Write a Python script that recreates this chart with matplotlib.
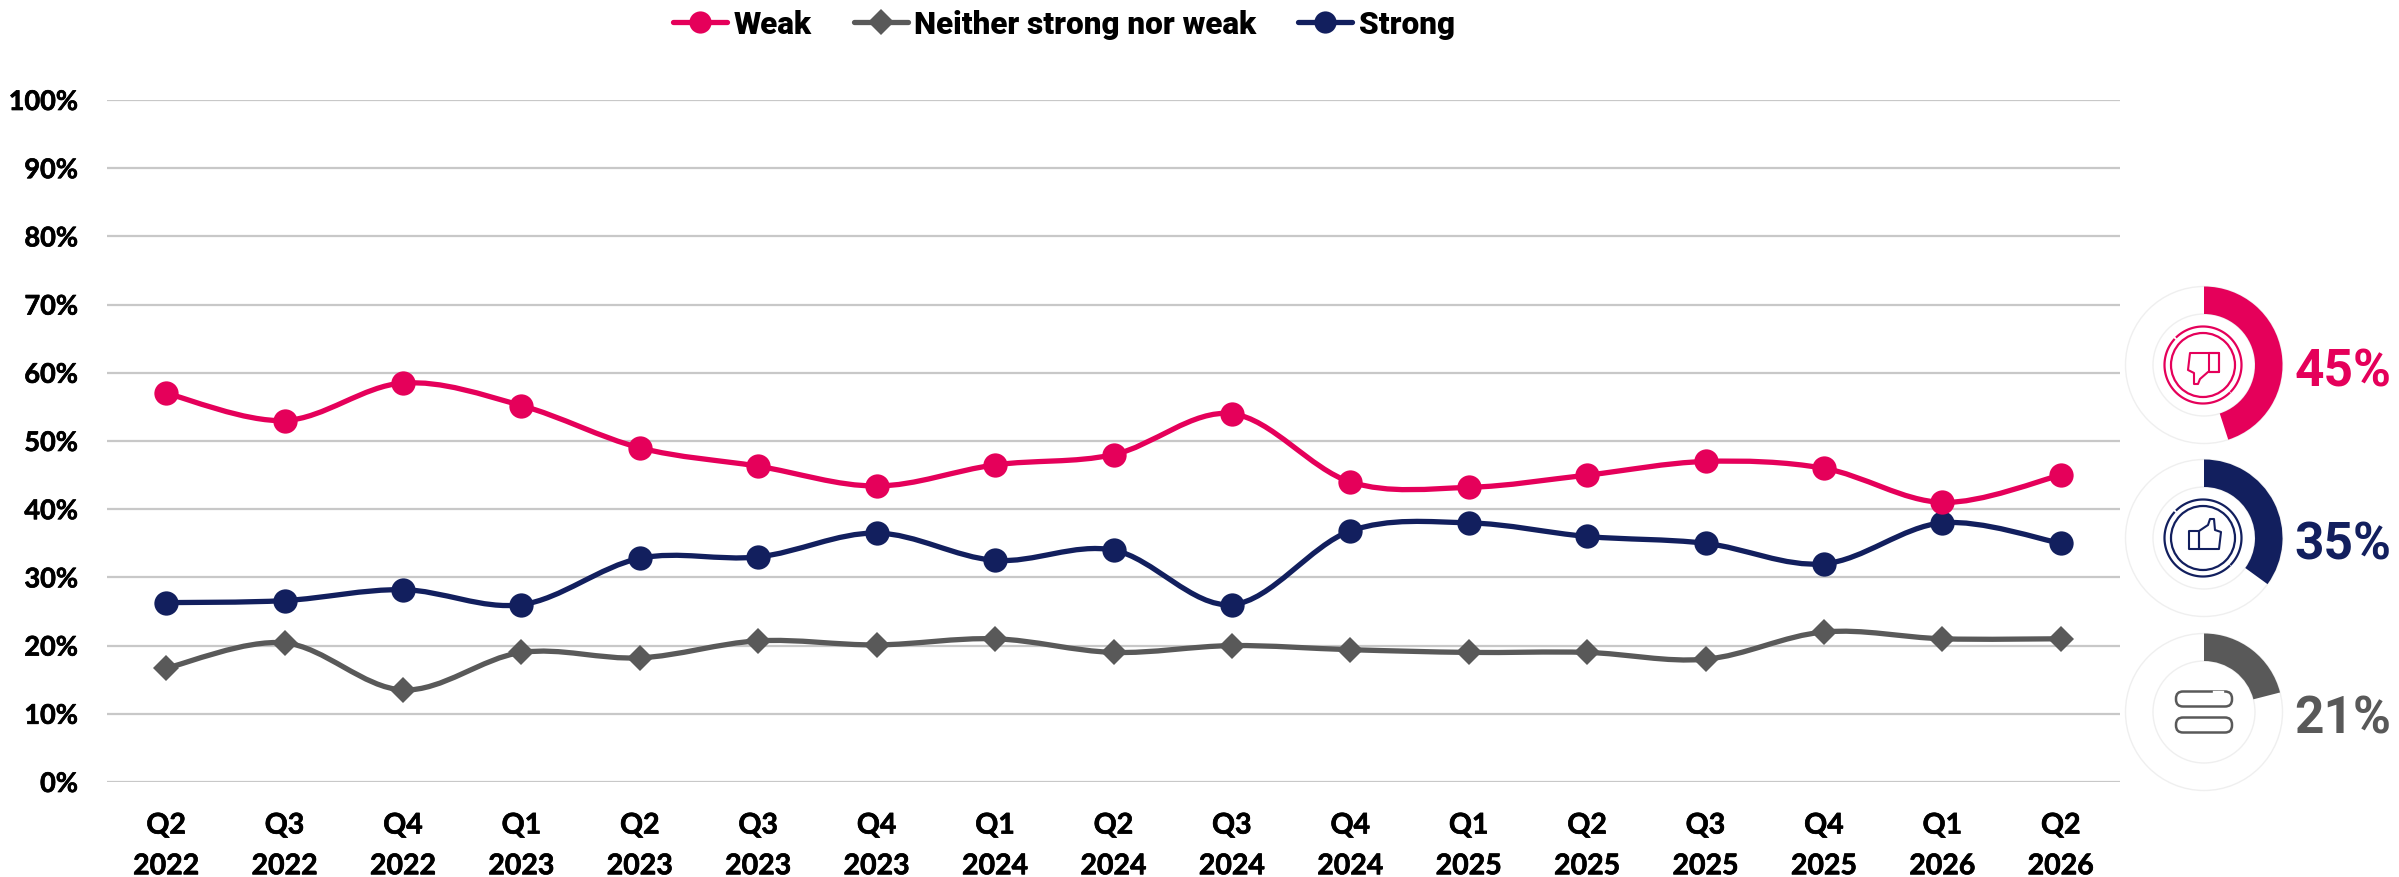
import numpy as np
import matplotlib
matplotlib.use("Agg")
import matplotlib.pyplot as plt
import matplotlib.patheffects as pe
from matplotlib.path import Path
from matplotlib.patches import PathPatch, Wedge, Circle, Polygon, FancyBboxPatch
from matplotlib.lines import Line2D

quarters = ["Q2","Q3","Q4","Q1","Q2","Q3","Q4","Q1","Q2","Q3","Q4","Q1","Q2","Q3","Q4","Q1","Q2"]
years = [2022,2022,2022,2023,2023,2023,2023,2024,2024,2024,2024,2025,2025,2025,2025,2026,2026]
weak = [57,53,58.5,55.2,49,46.3,43.4,46.5,48,54,44,43.2,45,47,46,41,45]
neither = [16.7,20.4,13.5,19,18.2,20.7,20.1,21,19,20,19.4,19,19,18,22,21,21]
strong = [26.3,26.6,28.2,26,32.8,33,36.5,32.5,34,26,36.8,38,36,35,32,38,35]
latest = {"weak":45,"strong":35,"neither":21}

PINK, GREY, NAVY = "#E5005A", "#595959", "#121F5E"
W, H = 2399, 878
fig = plt.figure(figsize=(W/100, H/100), dpi=100, facecolor="white")
L, R, T, B = 107, 2120, 101, 783
ax = fig.add_axes([L/W, 1-B/H, (R-L)/W, (B-T)/H])
xs = np.arange(len(quarters))

def smooth(x, y):
    p = np.column_stack([x, y]).astype(float)
    verts, codes = [p[0]], [Path.MOVETO]
    n = len(p)
    for i in range(n-1):
        p0 = p[max(i-1,0)]; p1 = p[i]; p2 = p[i+1]; p3 = p[min(i+2,n-1)]
        verts += [p1+(p2-p0)/6, p2-(p3-p1)/6, p2]
        codes += [Path.CURVE4]*3
    return Path(verts, codes)

styles = [("Weak", weak, PINK, "o", 17.5), ("Neither strong nor weak", neither, GREY, "D", 13.5), ("Strong", strong, NAVY, "o", 17.5)]
handles = []
for label, vals, col, mk, ms in [styles[1], styles[2], styles[0]]:
    ax.add_patch(PathPatch(smooth(xs, vals), fc="none", ec=col, lw=3.8, capstyle="round", zorder=3))
    ax.plot(xs, vals, ls="none", marker=mk, ms=ms, color=col, mew=0, zorder=4, clip_on=False)
for label, vals, col, mk, ms in styles:
    handles.append(Line2D([0],[0], color=col, lw=3.8, marker=mk, ms=16 if mk=="o" else 13, mew=0, solid_capstyle="round", label=label))

ax.set_xlim(-0.5, len(xs)-0.5)
ax.set_ylim(0, 100)
ax.set_yticks(range(0, 101, 10))
ax.set_yticklabels([f"{v}%" for v in range(0, 101, 10)], family="Lato", weight="bold", fontsize=19.5, color="black")
ax.set_xticks(xs)
ax.set_xticklabels([f"{q}\n{y}" for q, y in zip(quarters, years)], family="Lato", weight="bold", fontsize=20.5, color="black", linespacing=1.7)
ax.tick_params(length=0, axis="y", pad=21)
ax.tick_params(length=0, axis="x", pad=22)
for t in ax.get_xticklabels() + ax.get_yticklabels():
    t.set_path_effects([pe.withStroke(linewidth=0.5, foreground="black")])
ax.grid(axis="y", color="#C8C8C8", lw=1.6)
ax.set_axisbelow(True)
for s in ax.spines.values():
    s.set_visible(False)

fig.legend(handles=handles, loc="center left", bbox_to_anchor=(673/W, 1-25/H), ncols=3, frameon=False,
           prop={"family":"Roboto","weight":"black","size":22.6}, handlelength=1.72, handletextpad=0.2,
           columnspacing=1.35, borderpad=0, borderaxespad=0)

ov = fig.add_axes([0,0,1,1], zorder=5)
ov.set_xlim(0, W); ov.set_ylim(H, 0); ov.axis("off"); ov.patch.set_alpha(0)
CX = 2204
TRACK = "#EFEFEF"
def donut(cy, val, col):
    ov.add_patch(Circle((CX,cy), 78.5, fc="white", ec=TRACK, lw=1))
    ov.add_patch(Circle((CX,cy), 51, fc="none", ec=TRACK, lw=1))
    ov.add_patch(Wedge((CX,cy), 78.5, -90, -90+3.6*val, width=27.5, fc=col, ec="none"))
    ov.text(2294.5, cy+7, f"{val}%", color=col, family="Roboto", weight="bold", fontsize=37, va="center", ha="left")

def rings(cy, col):
    lw = 1.6
    for a, b in [(-43,133),(139,313)]:
        t = np.radians(np.linspace(a, b, 90))
        ov.add_line(Line2D(CX-1+38.5*np.cos(t), cy-38.5*np.sin(t), color=col, lw=lw))
    ov.add_patch(Circle((CX-1,cy), 32, fc="none", ec=col, lw=lw))

def poly(cy, pts, col):
    ov.add_patch(Polygon([(CX+x, cy+y) for x, y in pts], closed=True, fc="none", ec=col, lw=1.5, joinstyle="round"))

cy1, cy2, cy3 = 366, 539, 713
donut(cy1, latest["weak"], PINK)
rings(cy1, PINK)
poly(cy1, [(-14,-12),(15,-12),(15,7),(4,7),(-4,14),(-6,19),(-10,19),(-10,8),(-16,5)], PINK)
poly(cy1, [(5,-12),(15,-12),(15,7),(5,7)], PINK)

donut(cy2, latest["strong"], NAVY)
rings(cy2, NAVY)
poly(cy2, [(-15,-7),(-5,-7),(-5,11),(-15,11)], NAVY)
poly(cy2, [(-5,-7),(4,-13),(6,-19),(10,-19),(11,-8),(17,-6),(15,11),(-5,11)], NAVY)

donut(cy3, latest["neither"], GREY)
for off in (-13, 13):
    ov.add_patch(FancyBboxPatch((CX-21, cy3+off-0.5), 42, 1, boxstyle="round,pad=7,rounding_size=7", fc="white", ec=GREY, lw=1.8))
ov.add_line(Line2D([CX+10, CX+13],[cy3-20.5,cy3-20.5], color="white", lw=2.4))
ov.add_line(Line2D([CX+16, CX+18],[cy3-20.5,cy3-20.5], color="white", lw=2.4))

fig.savefig("out.png", dpi=100)
